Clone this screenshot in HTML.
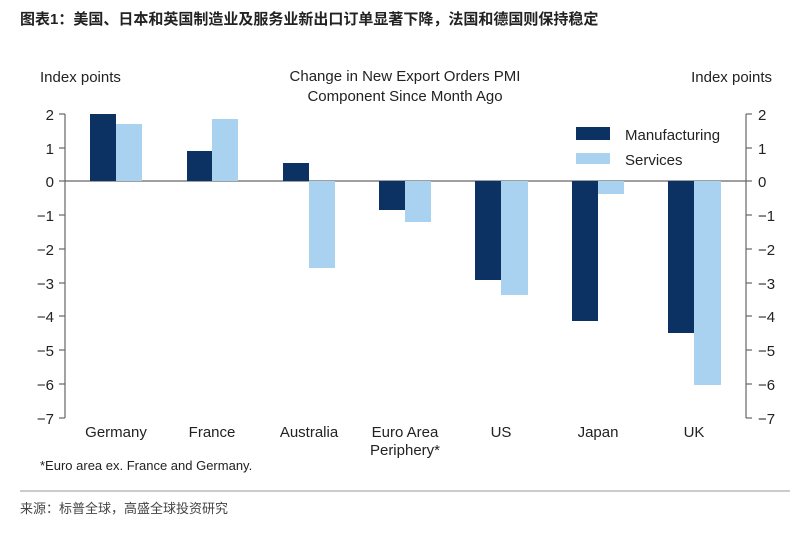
<!DOCTYPE html>
<html><head><meta charset="utf-8"><style>
body{margin:0;background:#fff;width:800px;height:529px;overflow:hidden}
svg text{font-family:"Liberation Sans","Noto Sans CJK SC",sans-serif}
</style></head><body>
<svg width="800" height="529" viewBox="0 0 800 529" xmlns="http://www.w3.org/2000/svg">
<text x="20" y="24" font-size="15" font-weight="bold" fill="#222">图表1：美国、日本和英国制造业及服务业新出口订单显著下降，法国和德国则保持稳定</text>
<g font-size="15" fill="#222">
<text x="40" y="82">Index points</text>
<text x="772" y="82" text-anchor="end">Index points</text>
<text x="405" y="81" text-anchor="middle">Change in New Export Orders PMI</text>
<text x="405" y="101" text-anchor="middle">Component Since Month Ago</text>
</g>
<g stroke="#666" stroke-width="1.2" fill="none">
<line x1="65" y1="114" x2="65" y2="418"/>
<line x1="746" y1="114" x2="746" y2="418"/>
<line x1="65" y1="181" x2="746" y2="181"/>
<line x1="59" y1="114" x2="65" y2="114"/><line x1="59" y1="148" x2="65" y2="148"/><line x1="59" y1="181" x2="65" y2="181"/><line x1="59" y1="215" x2="65" y2="215"/><line x1="59" y1="249" x2="65" y2="249"/><line x1="59" y1="283" x2="65" y2="283"/><line x1="59" y1="316" x2="65" y2="316"/><line x1="59" y1="350" x2="65" y2="350"/><line x1="59" y1="384" x2="65" y2="384"/><line x1="59" y1="418" x2="65" y2="418"/>
<line x1="746" y1="114" x2="752" y2="114"/><line x1="746" y1="148" x2="752" y2="148"/><line x1="746" y1="181" x2="752" y2="181"/><line x1="746" y1="215" x2="752" y2="215"/><line x1="746" y1="249" x2="752" y2="249"/><line x1="746" y1="283" x2="752" y2="283"/><line x1="746" y1="316" x2="752" y2="316"/><line x1="746" y1="350" x2="752" y2="350"/><line x1="746" y1="384" x2="752" y2="384"/><line x1="746" y1="418" x2="752" y2="418"/>
</g>
<g font-size="15" fill="#222" text-anchor="end">
<text x="54" y="120">2</text><text x="54" y="154">1</text><text x="54" y="187">0</text><text x="54" y="221">−1</text><text x="54" y="255">−2</text><text x="54" y="289">−3</text><text x="54" y="322">−4</text><text x="54" y="356">−5</text><text x="54" y="390">−6</text><text x="54" y="424">−7</text>
</g>
<g font-size="15" fill="#222">
<text x="758" y="120">2</text><text x="758" y="154">1</text><text x="758" y="187">0</text><text x="758" y="221">−1</text><text x="758" y="255">−2</text><text x="758" y="289">−3</text><text x="758" y="322">−4</text><text x="758" y="356">−5</text><text x="758" y="390">−6</text><text x="758" y="424">−7</text>
</g>
<g fill="#0b3262">
<rect x="90" y="114" width="26" height="67"/>
<rect x="187" y="151" width="25" height="30"/>
<rect x="283" y="163" width="26" height="18"/>
<rect x="379" y="181" width="26" height="29"/>
<rect x="475" y="181" width="26" height="99"/>
<rect x="572" y="181" width="26" height="140"/>
<rect x="668" y="181" width="26" height="152"/>
<rect x="576" y="127" width="34" height="13"/>
</g>
<g fill="#a9d1f0">
<rect x="116" y="124" width="26" height="57"/>
<rect x="212" y="119" width="26" height="62"/>
<rect x="309" y="181" width="26" height="87"/>
<rect x="405" y="181" width="26" height="41"/>
<rect x="501" y="181" width="27" height="114"/>
<rect x="598" y="181" width="26" height="13"/>
<rect x="694" y="181" width="27" height="204"/>
<rect x="576" y="153" width="34" height="11"/>
</g>
<g font-size="15" fill="#222">
<text x="625" y="140">Manufacturing</text>
<text x="625" y="165">Services</text>
</g>
<g font-size="15" fill="#222" text-anchor="middle">
<text x="116" y="437">Germany</text>
<text x="212" y="437">France</text>
<text x="309" y="437">Australia</text>
<text x="405" y="437">Euro Area</text>
<text x="405" y="455">Periphery*</text>
<text x="501" y="437">US</text>
<text x="598" y="437">Japan</text>
<text x="694" y="437">UK</text>
</g>
<text x="40" y="470" font-size="13" fill="#222">*Euro area ex. France and Germany.</text>
<line x1="20" y1="491" x2="790" y2="491" stroke="#999" stroke-width="1"/>
<text x="20" y="513" font-size="13" fill="#444">来源：标普全球，高盛全球投资研究</text>
</svg>
</body></html>
